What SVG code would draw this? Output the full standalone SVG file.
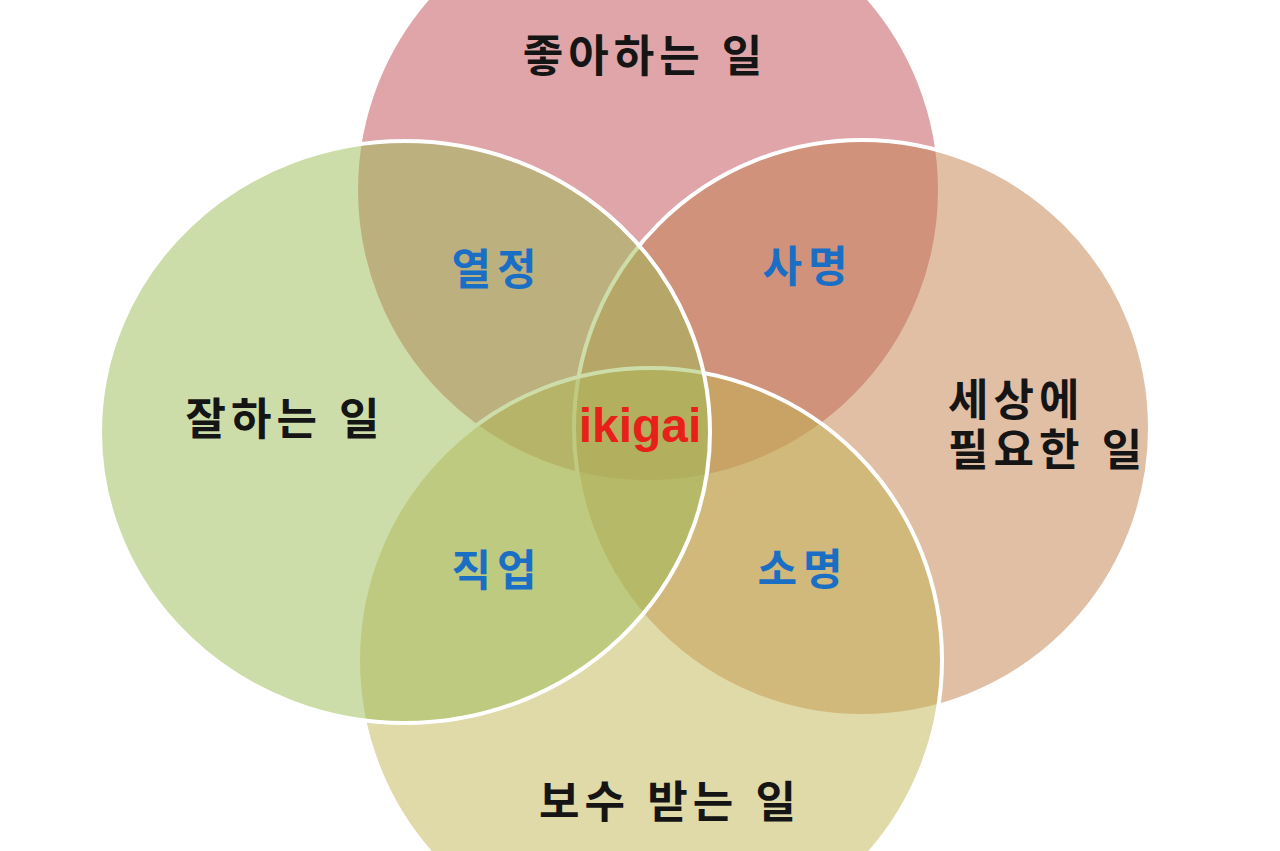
<svg xmlns="http://www.w3.org/2000/svg" width="1280" height="851" viewBox="0 0 1280 851">
  <style>
    .c { stroke: #ffffff; stroke-width: 4; fill-opacity: 0.5; }
    .t { font-family: "Liberation Sans", "Noto Sans CJK KR", sans-serif; font-weight: bold; font-size: 44px; fill: #151515; letter-spacing: 5px; }
    .b { font-family: "Liberation Sans", "Noto Sans CJK KR", sans-serif; font-weight: bold; font-size: 43px; fill: #1A6FC4; letter-spacing: 6px; }
    .k { font-family: "Liberation Sans", Arial, sans-serif; font-weight: bold; font-size: 48px; fill: #E8201A; }
  </style>
  <rect x="0" y="0" width="1280" height="851" fill="#ffffff"/>
  <g id="love">
    <circle class="c" cx="648" cy="190" r="292" fill="#BF4B51"/>
  </g>
  <g id="need">
    <circle class="c" cx="862" cy="428" r="288" fill="#C17F4B"/>
  </g>
  <g id="paid">
    <circle class="c" cx="650" cy="660" r="292" fill="#C1B351"/>
  </g>
  <g id="good">
    <ellipse class="c" cx="405" cy="432" rx="305" ry="291" fill="#9BBB55"/>
  </g>
  <g id="labels">
    <text class="t" x="645" y="72" text-anchor="middle">좋아하는 일</text>
    <text class="t" x="285" y="435" text-anchor="middle">잘하는 일</text>
    <text class="t" x="948" y="416">세상에</text>
    <text class="t" x="948" y="466">필요한 일</text>
    <text class="t" x="670" y="818" text-anchor="middle">보수 받는 일</text>
    <text class="b" x="497" y="285" text-anchor="middle">열정</text>
    <text class="b" x="808" y="282" text-anchor="middle">사명</text>
    <text class="b" x="497" y="586" text-anchor="middle">직업</text>
    <text class="b" x="803" y="585" text-anchor="middle">소명</text>
    <text class="k" x="640" y="442" text-anchor="middle">ikigai</text>
  </g>
</svg>
